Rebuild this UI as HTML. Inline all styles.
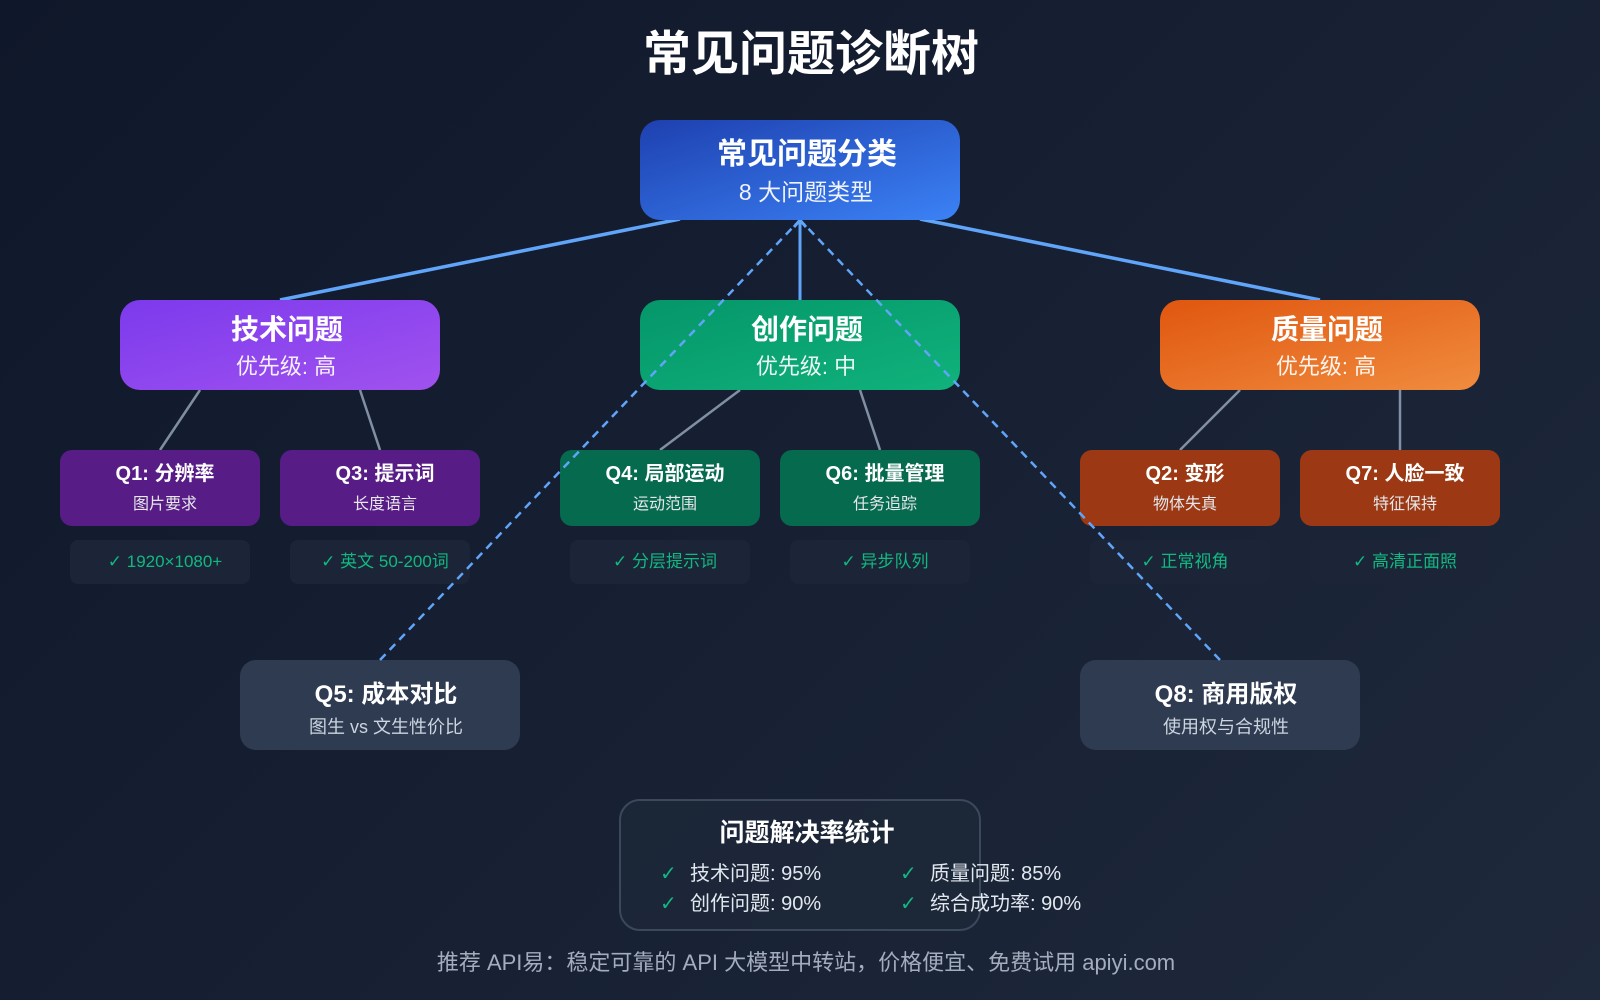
<!DOCTYPE html>
<html>
<head>
<meta charset="utf-8">
<style>
  html, body { margin:0; padding:0; width:1600px; height:1000px; overflow:hidden; }
  body { background: linear-gradient(135deg, #0f172a 0%, #172033 50%, #1e293b 100%); }
  svg { display:block; }
  text { font-family: "Liberation Sans", "Noto Sans CJK SC", sans-serif; }
  .ck { font-family: "DejaVu Sans", sans-serif; }
</style>
</head>
<body>
<svg width="1600" height="1000" viewBox="0 0 1600 1000" xmlns="http://www.w3.org/2000/svg">
  <defs>
    <linearGradient id="gRoot" x1="0" y1="0" x2="1" y2="1">
      <stop offset="0" stop-color="#1e40af"/>
      <stop offset="1" stop-color="#3b82f6"/>
    </linearGradient>
    <linearGradient id="gTech" x1="0" y1="0" x2="1" y2="1">
      <stop offset="0" stop-color="#7c3aed"/>
      <stop offset="1" stop-color="#a052ee"/>
    </linearGradient>
    <linearGradient id="gCre" x1="0" y1="0" x2="1" y2="1">
      <stop offset="0" stop-color="#059669"/>
      <stop offset="1" stop-color="#10b27c"/>
    </linearGradient>
    <linearGradient id="gQual" x1="0" y1="0" x2="1" y2="1">
      <stop offset="0" stop-color="#e0560f"/>
      <stop offset="1" stop-color="#f08c3e"/>
    </linearGradient>
  </defs>

  <!-- Title -->
  <text x="811" y="70" text-anchor="middle" font-size="48" font-weight="bold" fill="#ffffff">常见问题诊断树</text>

  <!-- Solid blue connectors -->
  <line x1="680" y1="219" x2="280" y2="300" stroke="#60a5fa" stroke-width="3.5"/>
  <line x1="920" y1="219" x2="1320" y2="300" stroke="#60a5fa" stroke-width="3.5"/>
  <line x1="800" y1="300" x2="800" y2="221" stroke="#60a5fa" stroke-width="3"/>
  <polyline points="794,227 800,220 806,227" fill="none" stroke="#60a5fa" stroke-width="3"/>

  <!-- Gray connectors -->
  <g stroke="#94a3b8" stroke-width="2.5" opacity="0.85">
    <line x1="200" y1="390" x2="160" y2="450"/>
    <line x1="360" y1="390" x2="380" y2="450"/>
    <line x1="740" y1="390" x2="660" y2="450"/>
    <line x1="860" y1="390" x2="880" y2="450"/>
    <line x1="1240" y1="390" x2="1180" y2="450"/>
    <line x1="1400" y1="390" x2="1400" y2="450"/>
  </g>

  <!-- Root -->
  <rect x="640" y="120" width="320" height="100" rx="20" fill="url(#gRoot)"/>
  <text x="807" y="164" text-anchor="middle" font-size="30" font-weight="bold" fill="#ffffff">常见问题分类</text>
  <text x="806" y="200" text-anchor="middle" font-size="23" fill="#ffffff" fill-opacity="0.92">8 大问题类型</text>

  <!-- Level 1 -->
  <rect x="120" y="300" width="320" height="90" rx="20" fill="url(#gTech)"/>
  <text x="287" y="339" text-anchor="middle" font-size="28" font-weight="bold" fill="#ffffff">技术问题</text>
  <text x="286" y="374" text-anchor="middle" font-size="22" fill="#ffffff" fill-opacity="0.92">优先级: 高</text>

  <rect x="640" y="300" width="320" height="90" rx="20" fill="url(#gCre)"/>
  <text x="807" y="339" text-anchor="middle" font-size="28" font-weight="bold" fill="#ffffff">创作问题</text>
  <text x="806" y="374" text-anchor="middle" font-size="22" fill="#ffffff" fill-opacity="0.92">优先级: 中</text>

  <rect x="1160" y="300" width="320" height="90" rx="20" fill="url(#gQual)"/>
  <text x="1327" y="339" text-anchor="middle" font-size="28" font-weight="bold" fill="#ffffff">质量问题</text>
  <text x="1326" y="374" text-anchor="middle" font-size="22" fill="#ffffff" fill-opacity="0.92">优先级: 高</text>

  <!-- Level 2 boxes -->
  <g>
    <rect x="60" y="450" width="200" height="76" rx="12" fill="#581c87"/>
    <text x="165" y="480" text-anchor="middle" font-size="20" font-weight="bold" fill="#ffffff">Q1: 分辨率</text>
    <text x="165" y="509" text-anchor="middle" font-size="16" fill="#e5e7eb">图片要求</text>

    <rect x="280" y="450" width="200" height="76" rx="12" fill="#581c87"/>
    <text x="385" y="480" text-anchor="middle" font-size="20" font-weight="bold" fill="#ffffff">Q3: 提示词</text>
    <text x="385" y="509" text-anchor="middle" font-size="16" fill="#e5e7eb">长度语言</text>

    <rect x="560" y="450" width="200" height="76" rx="12" fill="#066a4e"/>
    <text x="665" y="480" text-anchor="middle" font-size="20" font-weight="bold" fill="#ffffff">Q4: 局部运动</text>
    <text x="665" y="509" text-anchor="middle" font-size="16" fill="#e5e7eb">运动范围</text>

    <rect x="780" y="450" width="200" height="76" rx="12" fill="#066a4e"/>
    <text x="885" y="480" text-anchor="middle" font-size="20" font-weight="bold" fill="#ffffff">Q6: 批量管理</text>
    <text x="885" y="509" text-anchor="middle" font-size="16" fill="#e5e7eb">任务追踪</text>

    <rect x="1080" y="450" width="200" height="76" rx="12" fill="#9c3914"/>
    <text x="1185" y="480" text-anchor="middle" font-size="20" font-weight="bold" fill="#ffffff">Q2: 变形</text>
    <text x="1185" y="509" text-anchor="middle" font-size="16" fill="#e5e7eb">物体失真</text>

    <rect x="1300" y="450" width="200" height="76" rx="12" fill="#9c3914"/>
    <text x="1405" y="480" text-anchor="middle" font-size="20" font-weight="bold" fill="#ffffff">Q7: 人脸一致</text>
    <text x="1405" y="509" text-anchor="middle" font-size="16" fill="#e5e7eb">特征保持</text>
  </g>

  <!-- Check boxes -->
  <g>
    <rect x="70" y="540" width="180" height="44" rx="8" fill="#1c2537"/>
    <text x="165" y="567" text-anchor="middle" font-size="17" fill="#10b981"><tspan class="ck">✓</tspan> 1920×1080+</text>
    <rect x="290" y="540" width="180" height="44" rx="8" fill="#1c2537"/>
    <text x="385" y="567" text-anchor="middle" font-size="17" fill="#10b981"><tspan class="ck">✓</tspan> 英文 50-200词</text>
    <rect x="570" y="540" width="180" height="44" rx="8" fill="#1c2537"/>
    <text x="665" y="567" text-anchor="middle" font-size="17" fill="#10b981"><tspan class="ck">✓</tspan> 分层提示词</text>
    <rect x="790" y="540" width="180" height="44" rx="8" fill="#1c2537"/>
    <text x="885" y="567" text-anchor="middle" font-size="17" fill="#10b981"><tspan class="ck">✓</tspan> 异步队列</text>
    <rect x="1090" y="540" width="180" height="44" rx="8" fill="#1c2537"/>
    <text x="1185" y="567" text-anchor="middle" font-size="17" fill="#10b981"><tspan class="ck">✓</tspan> 正常视角</text>
    <rect x="1310" y="540" width="180" height="44" rx="8" fill="#1c2537"/>
    <text x="1405" y="567" text-anchor="middle" font-size="17" fill="#10b981"><tspan class="ck">✓</tspan> 高清正面照</text>
  </g>

  <!-- Q5 / Q8 -->
  <rect x="240" y="660" width="280" height="90" rx="16" fill="#2f3b50"/>
  <text x="386" y="702" text-anchor="middle" font-size="24" font-weight="bold" fill="#ffffff">Q5: 成本对比</text>
  <text x="386" y="733" text-anchor="middle" font-size="18" fill="#cbd5e1">图生 vs 文生性价比</text>

  <rect x="1080" y="660" width="280" height="90" rx="16" fill="#2f3b50"/>
  <text x="1226" y="702" text-anchor="middle" font-size="24" font-weight="bold" fill="#ffffff">Q8: 商用版权</text>
  <text x="1226" y="733" text-anchor="middle" font-size="18" fill="#cbd5e1">使用权与合规性</text>

  <!-- Dashed connectors (on top) -->
  <line x1="380" y1="660" x2="796" y2="224" stroke="#60a5fa" stroke-width="2.5" stroke-dasharray="8,6"/>
  <line x1="1220" y1="660" x2="804" y2="224" stroke="#60a5fa" stroke-width="2.5" stroke-dasharray="8,6"/>

  <!-- Stats box -->
  <rect x="620" y="800" width="360" height="130" rx="20" fill="#1e293b" fill-opacity="0.6" stroke="#475569" stroke-opacity="0.75" stroke-width="2"/>
  <text x="807" y="841" text-anchor="middle" font-size="25" font-weight="bold" fill="#ffffff">问题解决率统计</text>
  <g font-size="20">
    <text x="660" y="880" fill="#10b981" class="ck">✓</text>
    <text x="690" y="880" fill="#e2e8f0">技术问题: 95%</text>
    <text x="900" y="880" fill="#10b981" class="ck">✓</text>
    <text x="930" y="880" fill="#e2e8f0">质量问题: 85%</text>
    <text x="660" y="910" fill="#10b981" class="ck">✓</text>
    <text x="690" y="910" fill="#e2e8f0">创作问题: 90%</text>
    <text x="900" y="910" fill="#10b981" class="ck">✓</text>
    <text x="930" y="910" fill="#e2e8f0">综合成功率: 90%</text>
  </g>

  <!-- Footer -->
  <text x="806" y="970" text-anchor="middle" font-size="22" fill="#a3adbd">推荐 API易：稳定可靠的 API 大模型中转站，价格便宜、免费试用 apiyi.com</text>
</svg>
</body>
</html>
